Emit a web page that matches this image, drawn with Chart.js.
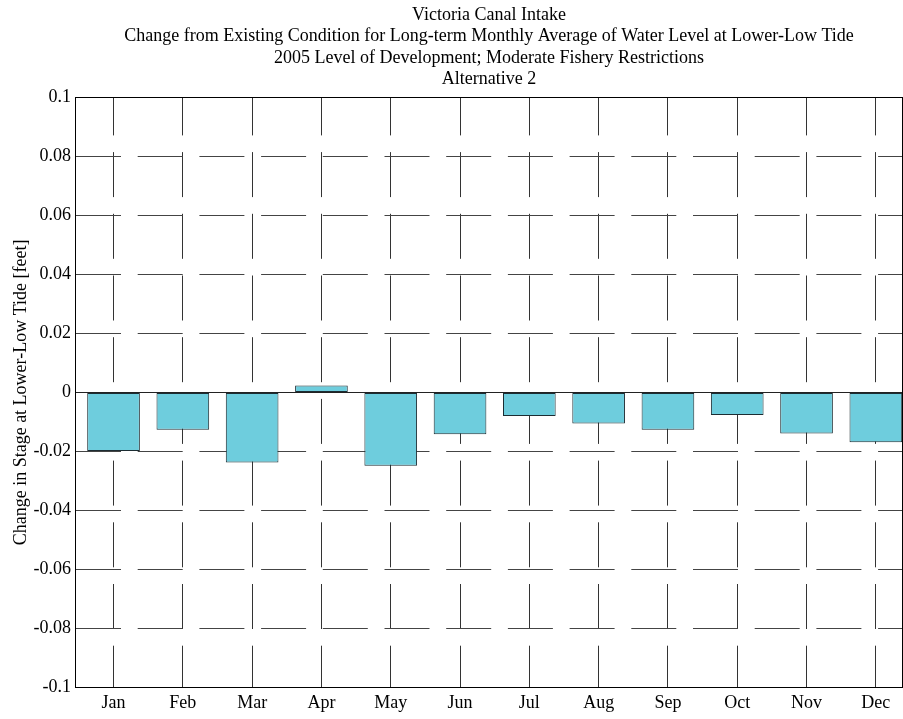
<!DOCTYPE html>
<html>
<head>
<meta charset="utf-8">
<script src="https://cdn.jsdelivr.net/npm/chart.js@4.4.0/dist/chart.umd.min.js"></script>
<style>
  html, body { margin: 0; padding: 0; background: #fff; }
</style>
</head>
<body>
<canvas id="stageChart" width="903" height="719"></canvas>
<script>
// months along the x axis
const months = ["Jan", "Feb", "Mar", "Apr", "May", "Jun", "Jul", "Aug", "Sep", "Oct", "Nov", "Dec"];
// change in stage at lower-low tide [feet]
const stageChange = [-0.0199, -0.0127, -0.0238, 0.0023, -0.0249, -0.0142, -0.0080, -0.0105, -0.0127, -0.0077, -0.0139, -0.0169];
const yTicks = [-0.1, -0.08, -0.06, -0.04, -0.02, 0, 0.02, 0.04, 0.06, 0.08, 0.1];
const titleLines = [
    "Victoria Canal Intake",
    "Change from Existing Condition for Long-term Monthly Average of Water Level at Lower-Low Tide",
    "2005 Level of Development; Moderate Fishery Restrictions",
    "Alternative 2",
];

const serif = "'Liberation Serif', 'Times New Roman', serif";

// zero line and the closed box, like the matlab axes
const boxPlugin = {
    id: "box",
    afterDatasetsDraw(chart) {
        const { ctx, chartArea: a, scales } = chart;
        const y0 = Math.round(scales.y.getPixelForValue(0)) + 0.5;
        ctx.save();
        ctx.strokeStyle = "#222";
        ctx.lineWidth = 1;
        ctx.beginPath();
        ctx.moveTo(a.left, y0);
        ctx.lineTo(a.right, y0);
        ctx.stroke();
        ctx.strokeStyle = "#000";
        ctx.strokeRect(Math.round(a.left) + 0.5, Math.round(a.top) + 0.5,
            Math.round(a.right - a.left) - 1, Math.round(a.bottom - a.top));
        ctx.restore();
    },
};

const ctx = document.getElementById("stageChart");
new Chart(ctx, {
    type: "bar",
    data: {
        datasets: [
            {
                data: stageChange.map((v, i) => ({ x: i + 1, y: v })),
                backgroundColor: "#6ecddd",
                borderColor: "#1c2c32",
                borderWidth: 1,
                borderSkipped: false,
                barPercentage: 0.76,
                categoryPercentage: 1,
            },
        ],
    },
    options: {
        responsive: false,
        animation: false,
        devicePixelRatio: 1,
        layout: { padding: 0 },
        plugins: {
            legend: { display: false },
            tooltip: { enabled: false },
            title: {
                display: true,
                fullSize: false,
                text: titleLines,
                color: "#000",
                font: { family: serif, size: 18, weight: "normal", lineHeight: 1.2 },
                padding: { top: 4, bottom: 7 },
            },
        },
        scales: {
            x: {
                type: "linear",
                offset: false,
                min: 0.444,
                max: 12.392,
                afterBuildTicks: (scale) => {
                    scale.ticks = months.map((m, i) => ({ value: i + 1 }));
                },
                ticks: {
                    autoSkip: false,
                    maxRotation: 0,
                    padding: 5,
                    color: "#000",
                    font: { family: serif, size: 18 },
                    callback: (v) => months[Math.round(v) - 1],
                },
                grid: { offset: false, color: "#333", lineWidth: 1, drawTicks: false },
                border: { display: true, color: "#000", dash: [45, 16.7], dashOffset: 7 },
            },
            y: {
                min: -0.1,
                max: 0.1,
                afterBuildTicks: (scale) => {
                    scale.ticks = yTicks.map((v) => ({ value: v }));
                },
                afterFit: (scale) => {
                    scale.width = 75;
                },
                ticks: {
                    padding: 4,
                    color: "#000",
                    font: { family: serif, size: 18 },
                    callback: (v) => String(+v.toFixed(2)),
                },
                grid: { color: "#444", lineWidth: 1, drawTicks: false },
                border: { display: true, color: "#000", dash: [45, 16.7], dashOffset: 0 },
                title: {
                    display: true,
                    text: "Change in Stage at Lower-Low Tide [feet]",
                    color: "#000",
                    font: { family: serif, size: 18, lineHeight: 1.2 },
                    padding: { top: 10, bottom: 0 },
                },
            },
        },
    },
    plugins: [boxPlugin],
});
</script>
</body>
</html>
